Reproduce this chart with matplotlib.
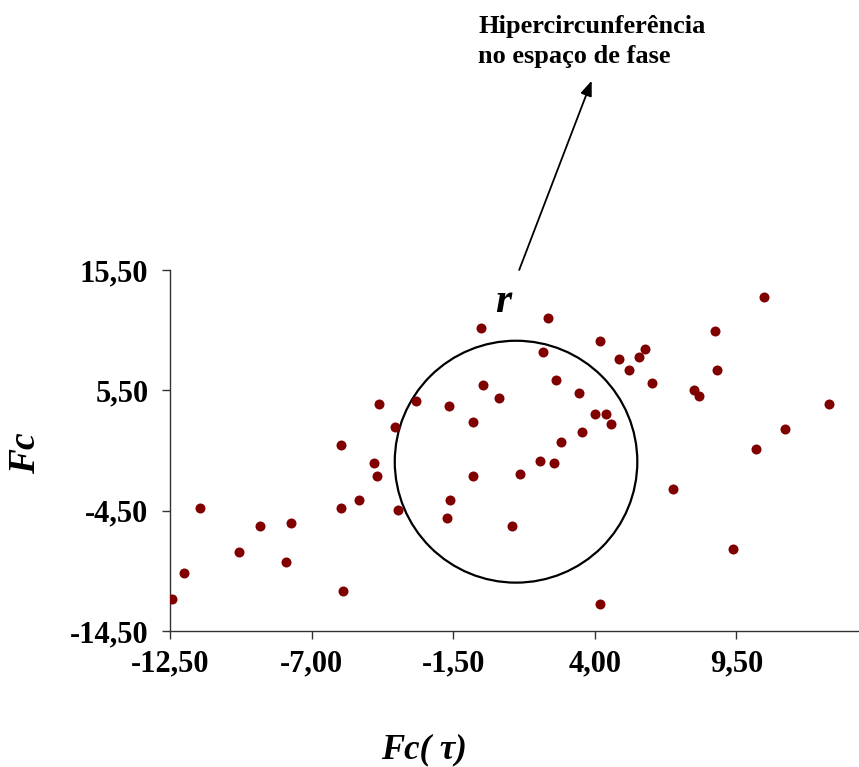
import numpy as np
import matplotlib
matplotlib.use("Agg")
import matplotlib.pyplot as plt
from matplotlib.patches import Ellipse

# data
fc_tau = [-12.44, -11.94, -11.32, -9.82, -9.02, -8.00, -7.80, -5.86, -5.86, -5.78,
          -5.16, -4.58, -4.46, -4.37, -3.76, -3.66, -2.93, -1.65, -1.64, -1.76,
          -0.75, -0.75, -0.43, -0.33, 0.28, 0.78, 1.08, 1.88, 2.00, 2.19,
          2.40, 2.49, 2.70, 3.40, 3.50, 4.00, 4.21, 4.42, 4.61, 4.21,
          4.92, 5.33, 5.73, 5.93, 6.23, 7.03, 7.85, 8.04, 8.65, 8.75,
          9.35, 10.26, 10.58, 11.38, 13.09]
fc = [-11.82, -9.66, -4.26, -7.92, -5.75, -8.80, -5.53, 0.98, -4.26, -11.16,
      -3.59, -0.57, -1.65, 4.39, 2.45, -4.45, 4.61, 4.20, -3.59, -5.12,
      2.89, -1.65, 10.65, 5.92, 4.83, -5.75, -1.43, -0.35, 8.71, 11.54,
      -0.57, 6.36, 1.18, 5.28, 2.03, 3.53, 9.60, 3.53, 2.67, -12.24,
      8.07, 7.22, 8.30, 8.93, 6.13, -2.73, 5.50, 5.05, 10.46, 7.22,
      -7.69, 0.60, 13.26, 2.26, 4.39]

xticks = [-12.5, -7.0, -1.5, 4.0, 9.5]
yticks = [-14.5, -4.5, 5.5, 15.5]

circle_center = (0.94, -0.43)
circle_w, circle_h = 9.42, 20.1

serif = "Liberation Serif"

fig = plt.figure(figsize=(8.59, 7.67), dpi=100)
ax = fig.add_axes([0.1979, 0.1773, 0.8009, 0.4707])

ax.scatter(fc_tau, fc, s=52, color="#800000", zorder=3, linewidths=0)
ax.add_patch(Ellipse(circle_center, circle_w, circle_h, fill=False,
                     edgecolor="black", lw=1.6, zorder=2))

ax.set_xlim(-12.5, 14.22)
ax.set_ylim(-14.5, 15.5)
ax.set_xticks(xticks)
ax.set_yticks(yticks)
ax.set_xticklabels([f"{v:.2f}".replace(".", ",") for v in xticks])
ax.set_yticklabels([f"{v:.2f}".replace(".", ",") for v in yticks])
for lab in ax.get_xticklabels() + ax.get_yticklabels():
    lab.set_fontfamily(serif)
    lab.set_fontweight("bold")
    lab.set_fontsize(22)
ax.tick_params(direction="out", length=5.5, width=1, color="#333333", pad=8)
ax.tick_params(axis="y", pad=10)

for s in ["top", "right"]:
    ax.spines[s].set_visible(False)
for s in ["left", "bottom"]:
    ax.spines[s].set_color("#333333")
    ax.spines[s].set_linewidth(1)

ax.text(0.43, 12.84, "r", fontfamily=serif, fontweight="bold", fontstyle="italic",
        fontsize=30, ha="center", va="center")

fig.text(0.4936, 0.0117, "Fc( \u03c4)", fontfamily=serif, fontweight="bold",
         fontstyle="italic", fontsize=25, ha="center", va="baseline")
fig.text(0.0303, 0.409, "Fc", fontfamily=serif, fontweight="bold",
         fontstyle="italic", fontsize=27, ha="center", va="center", rotation=90)

fig.text(0.5565, 0.957, "Hipercircunferência", fontfamily=serif,
         fontweight="bold", fontsize=19, ha="left", va="baseline")
fig.text(0.5565, 0.9179, "no espaço de fase", fontfamily=serif,
         fontweight="bold", fontsize=19, ha="left", va="baseline")
ax.annotate("", xy=(0.6888, 0.8948), xycoords="figure fraction",
            xytext=(0.6044, 0.648), textcoords="figure fraction",
            arrowprops=dict(arrowstyle="-|>,head_length=0.9,head_width=0.35",
                            color="black", lw=1.3, shrinkA=0, shrinkB=0))

fig.savefig("out.png", dpi=100)
